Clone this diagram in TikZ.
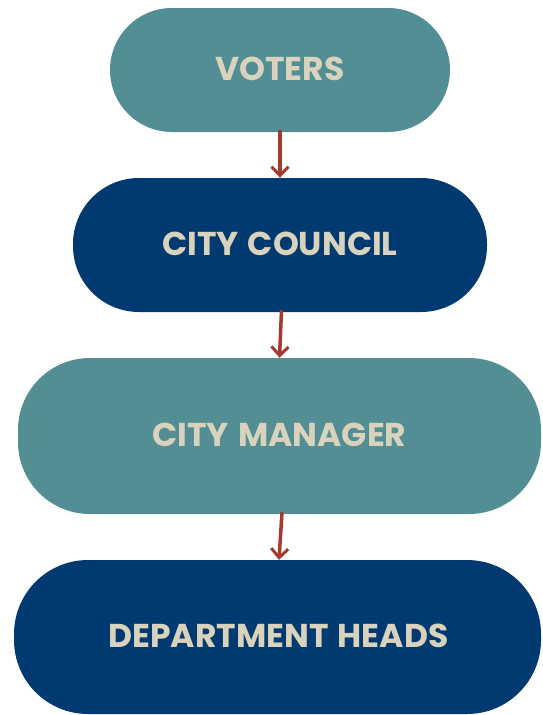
\documentclass[tikz,border=0pt]{standalone}
\usepackage{fontspec}
\setmainfont{Poppins}[UprightFont=* Bold, BoldFont=* Bold, WordSpace=1.3]
\usetikzlibrary{arrows.meta}
\definecolor{tealbox}{HTML}{528E93}
\definecolor{navybox}{HTML}{003A70}
\definecolor{labeltext}{HTML}{D9D3BD}
\definecolor{linkred}{HTML}{A33B2E}
\begin{document}
\begin{tikzpicture}[x=1pt,y=-1pt,
  pill/.style={inner sep=0pt, text=labeltext,
    font=\fontsize{33}{33}\selectfont},
  link/.style={draw=linkred, line width=3.5pt,
    -{Straight Barb[length=9pt,width=17pt,line width=3pt]}}]
\useasboundingbox (0,0) rectangle (543,715);
% the four bodies as rounded bars
\fill[tealbox, rounded corners=62pt] (110,8) rectangle (450,132);
\fill[navybox, rounded corners=66pt] (73,178) rectangle (487,312);
\fill[tealbox, rounded corners=72pt] (18,358) rectangle (541,514);
\fill[navybox, rounded corners=74pt] (14,560) rectangle (541,714);
% labels
\node[pill, minimum width=340pt, minimum height=124pt] (voters) at (280,69) {VOTERS};
\node[pill, minimum width=414pt, minimum height=134pt] (council) at (280,244) {CITY COUNCIL};
\node[pill, minimum width=523pt, minimum height=156pt] (manager) at (279.5,435) {CITY MANAGER};
\node[pill, minimum width=527pt, minimum height=154pt] (heads) at (278.5,636) {DEPARTMENT HEADS};
% reporting lines
\draw[link] ([yshift=1pt]voters.south) -- ([yshift=-1pt]council.north);
\draw[link] ([xshift=1.5pt,yshift=1pt]council.south) -- ([xshift=0pt,yshift=-1pt]manager.north);
\draw[link] ([xshift=2.5pt,yshift=1pt]manager.south) -- ([xshift=0.5pt,yshift=-1pt]heads.north);
\end{tikzpicture}
\end{document}
